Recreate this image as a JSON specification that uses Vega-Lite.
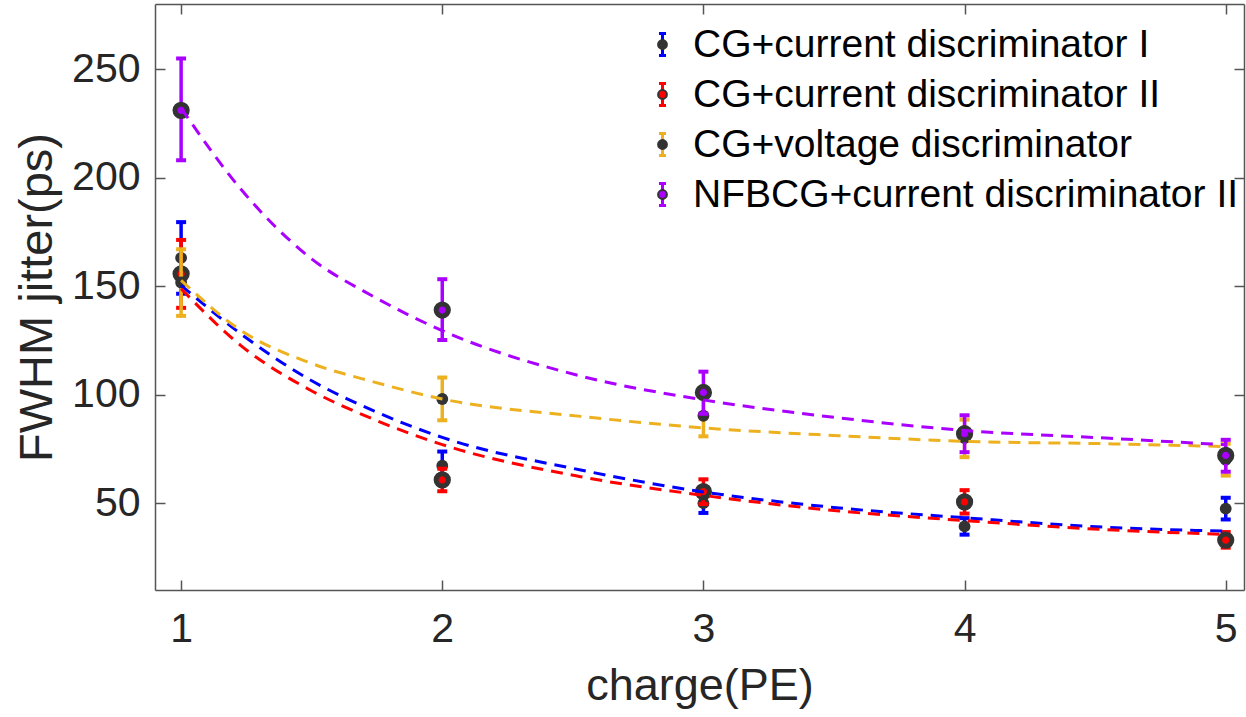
{
  "$schema": "https://vega.github.io/schema/vega-lite/v6.json",
  "width": 1089,
  "height": 586,
  "autosize": {"type": "none"},
  "padding": {"left": 155, "top": 4, "right": 2, "bottom": 127},
  "background": "white",
  "datasets": {
    "pts": [
      {"charge": 1, "series": "CG+current discriminator I", "val": 163, "lo": 146.5, "hi": 179.5},
      {"charge": 2, "series": "CG+current discriminator I", "val": 67.3, "lo": 60.8, "hi": 73.8},
      {"charge": 3, "series": "CG+current discriminator I", "val": 50, "lo": 45.5, "hi": 54.5},
      {"charge": 4, "series": "CG+current discriminator I", "val": 39.3, "lo": 35.5, "hi": 43.1},
      {"charge": 5, "series": "CG+current discriminator I", "val": 47.5, "lo": 42.5, "hi": 52.5},
      {"charge": 1, "series": "CG+current discriminator II", "val": 155.7, "lo": 140, "hi": 171.3},
      {"charge": 2, "series": "CG+current discriminator II", "val": 60.7, "lo": 55.5, "hi": 65.9},
      {"charge": 3, "series": "CG+current discriminator II", "val": 55.3, "lo": 49.6, "hi": 61},
      {"charge": 4, "series": "CG+current discriminator II", "val": 50.6, "lo": 45.2, "hi": 56},
      {"charge": 5, "series": "CG+current discriminator II", "val": 33, "lo": 29.5, "hi": 36.7},
      {"charge": 1, "series": "CG+voltage discriminator", "val": 151.7, "lo": 136.3, "hi": 167},
      {"charge": 2, "series": "CG+voltage discriminator", "val": 98, "lo": 88.2, "hi": 107.9},
      {"charge": 3, "series": "CG+voltage discriminator", "val": 90.3, "lo": 80.8, "hi": 99.8},
      {"charge": 4, "series": "CG+voltage discriminator", "val": 80, "lo": 71.2, "hi": 88.5},
      {"charge": 5, "series": "CG+voltage discriminator", "val": 70, "lo": 62.7, "hi": 77.4},
      {"charge": 1, "series": "NFBCG+current discriminator II", "val": 231, "lo": 208, "hi": 254.9},
      {"charge": 2, "series": "NFBCG+current discriminator II", "val": 139, "lo": 125.2, "hi": 153.2},
      {"charge": 3, "series": "NFBCG+current discriminator II", "val": 101, "lo": 91.2, "hi": 110.6},
      {"charge": 4, "series": "NFBCG+current discriminator II", "val": 82, "lo": 73.5, "hi": 90.5},
      {"charge": 5, "series": "NFBCG+current discriminator II", "val": 72, "lo": 64.5, "hi": 79.2}
    ],
    "fit": [
      {"charge": 1, "series": "CG+current discriminator I", "fit": 150.4},
      {"charge": 1.23, "series": "CG+current discriminator I", "fit": 127.9},
      {"charge": 1.49, "series": "CG+current discriminator I", "fit": 107.1},
      {"charge": 1.74, "series": "CG+current discriminator I", "fit": 92.4},
      {"charge": 2, "series": "CG+current discriminator I", "fit": 80.3},
      {"charge": 2.53, "series": "CG+current discriminator I", "fit": 65.3},
      {"charge": 3, "series": "CG+current discriminator I", "fit": 55.2},
      {"charge": 3.52, "series": "CG+current discriminator I", "fit": 47.8},
      {"charge": 4, "series": "CG+current discriminator I", "fit": 43.3},
      {"charge": 4.54, "series": "CG+current discriminator I", "fit": 38.9},
      {"charge": 5, "series": "CG+current discriminator I", "fit": 37.1},
      {"charge": 1, "series": "CG+current discriminator II", "fit": 148.8},
      {"charge": 1.23, "series": "CG+current discriminator II", "fit": 122.5},
      {"charge": 1.49, "series": "CG+current discriminator II", "fit": 102.4},
      {"charge": 1.74, "series": "CG+current discriminator II", "fit": 88.5},
      {"charge": 2, "series": "CG+current discriminator II", "fit": 77},
      {"charge": 2.53, "series": "CG+current discriminator II", "fit": 62.2},
      {"charge": 3, "series": "CG+current discriminator II", "fit": 53.6},
      {"charge": 3.52, "series": "CG+current discriminator II", "fit": 46.4},
      {"charge": 4, "series": "CG+current discriminator II", "fit": 42},
      {"charge": 4.54, "series": "CG+current discriminator II", "fit": 37.8},
      {"charge": 5, "series": "CG+current discriminator II", "fit": 35.6},
      {"charge": 1, "series": "CG+voltage discriminator", "fit": 152.7},
      {"charge": 1.23, "series": "CG+voltage discriminator", "fit": 129.5},
      {"charge": 1.49, "series": "CG+voltage discriminator", "fit": 114.8},
      {"charge": 1.74, "series": "CG+voltage discriminator", "fit": 105.8},
      {"charge": 2, "series": "CG+voltage discriminator", "fit": 98},
      {"charge": 2.53, "series": "CG+voltage discriminator", "fit": 90},
      {"charge": 3, "series": "CG+voltage discriminator", "fit": 84.7},
      {"charge": 3.52, "series": "CG+voltage discriminator", "fit": 81.1},
      {"charge": 4, "series": "CG+voltage discriminator", "fit": 78.5},
      {"charge": 4.54, "series": "CG+voltage discriminator", "fit": 77.4},
      {"charge": 5, "series": "CG+voltage discriminator", "fit": 76.1},
      {"charge": 1, "series": "NFBCG+current discriminator II", "fit": 232},
      {"charge": 1.23, "series": "NFBCG+current discriminator II", "fit": 194.5},
      {"charge": 1.49, "series": "NFBCG+current discriminator II", "fit": 163.5},
      {"charge": 1.74, "series": "NFBCG+current discriminator II", "fit": 145},
      {"charge": 2, "series": "NFBCG+current discriminator II", "fit": 129.5},
      {"charge": 2.53, "series": "NFBCG+current discriminator II", "fit": 108.6},
      {"charge": 3, "series": "NFBCG+current discriminator II", "fit": 97.6},
      {"charge": 3.52, "series": "NFBCG+current discriminator II", "fit": 89.3},
      {"charge": 4, "series": "NFBCG+current discriminator II", "fit": 83.5},
      {"charge": 4.54, "series": "NFBCG+current discriminator II", "fit": 80},
      {"charge": 5, "series": "NFBCG+current discriminator II", "fit": 76.9}
    ]
  },
  "layer": [
    {
      "encoding": {
        "x": {"field": "charge", "type": "quantitative", "title": "charge(PE)",
              "scale": {"domain": [0.9, 5.07], "nice": false, "zero": false},
              "axis": {"orient": "bottom", "values": [1, 2, 3, 4, 5], "format": "d", "title": "charge(PE)"}}
      },
      "layer": [
        {"data": {"name": "pts"}, "transform": [{"filter": {"field": "series", "equal": "CG+current discriminator I"}}],
         "mark": {"type": "rule", "strokeWidth": 3.5},
         "encoding": {
           "y": {"field": "lo", "type": "quantitative", "title": "FWHM jitter(ps)", "scale": {"domain": [10, 280], "nice": false, "zero": false}, "axis": {"orient": "left", "values": [50, 100, 150, 200, 250], "title": "FWHM jitter(ps)"}},
           "y2": {"field": "hi"},
           "stroke": {"field": "series", "type": "nominal",
             "scale": {"domain": ["CG+current discriminator I", "CG+current discriminator II", "CG+voltage discriminator", "NFBCG+current discriminator II"], "range": ["#0000FF", "#FF0000", "#EDB120", "#AA00FF"]},
             "legend": {"orient": "none", "legendX": 488, "legendY": 21, "title": null, "padding": 0,
               "symbolType": "M0,-1V1M-0.32,-1H0.32M-0.32,1H0.32", "symbolSize": 484, "symbolStrokeWidth": 3, "symbolFillColor": "transparent", "symbolOpacity": 1,
               "labelFont": "Liberation Sans", "labelFontSize": 39, "labelColor": "#000000", "labelOffset": 11, "rowPadding": 10, "labelLimit": 900}}
         }},
        {"data": {"name": "pts"}, "transform": [{"filter": {"field": "series", "equal": "CG+current discriminator I"}}],
         "mark": {"type": "point", "shape": "M-1,0H1", "filled": false, "size": 100, "strokeWidth": 4, "opacity": 1},
         "encoding": {"y": {"field": "lo", "type": "quantitative", "title": "FWHM jitter(ps)"}, "stroke": {"field": "series", "type": "nominal"}}},
        {"data": {"name": "pts"}, "transform": [{"filter": {"field": "series", "equal": "CG+current discriminator I"}}],
         "mark": {"type": "point", "shape": "M-1,0H1", "filled": false, "size": 100, "strokeWidth": 4, "opacity": 1},
         "encoding": {"y": {"field": "hi", "type": "quantitative", "title": "FWHM jitter(ps)"}, "stroke": {"field": "series", "type": "nominal"}}},
        {"data": {"name": "pts"}, "transform": [{"filter": {"field": "series", "equal": "CG+current discriminator I"}}],
         "mark": {"type": "point", "shape": "circle", "filled": true, "size": 140, "strokeWidth": 0, "opacity": 1},
         "encoding": {"y": {"field": "val", "type": "quantitative", "title": "FWHM jitter(ps)"},
           "fill": {"field": "series", "type": "nominal", "scale": {"range": ["#333333", "#FF0000", "#333333", "#AA00FF"]},
             "legend": {"orient": "none", "legendX": 488, "legendY": 21, "title": null, "padding": 0,
               "symbolType": "M-0.4,0A0.4,0.4 0 1,0 0.4,0A0.4,0.4 0 1,0 -0.4,0Z", "symbolSize": 484, "symbolStrokeColor": "#333333", "symbolStrokeWidth": 2, "symbolOpacity": 1,
               "labelFont": "Liberation Sans", "labelFontSize": 39, "labelOpacity": 0, "labelOffset": 11, "rowPadding": 10, "labelLimit": 900}}}},

        {"data": {"name": "pts"}, "transform": [{"filter": {"field": "series", "equal": "CG+current discriminator II"}}],
         "mark": {"type": "rule", "strokeWidth": 3.5},
         "encoding": {"y": {"field": "lo", "type": "quantitative", "title": "FWHM jitter(ps)"}, "y2": {"field": "hi"}, "stroke": {"field": "series", "type": "nominal"}}},
        {"data": {"name": "pts"}, "transform": [{"filter": {"field": "series", "equal": "CG+current discriminator II"}}],
         "mark": {"type": "point", "shape": "M-1,0H1", "filled": false, "size": 100, "strokeWidth": 4, "opacity": 1},
         "encoding": {"y": {"field": "lo", "type": "quantitative", "title": "FWHM jitter(ps)"}, "stroke": {"field": "series", "type": "nominal"}}},
        {"data": {"name": "pts"}, "transform": [{"filter": {"field": "series", "equal": "CG+current discriminator II"}}],
         "mark": {"type": "point", "shape": "M-1,0H1", "filled": false, "size": 100, "strokeWidth": 4, "opacity": 1},
         "encoding": {"y": {"field": "hi", "type": "quantitative", "title": "FWHM jitter(ps)"}, "stroke": {"field": "series", "type": "nominal"}}},
        {"data": {"name": "pts"}, "transform": [{"filter": {"field": "series", "equal": "CG+current discriminator II"}}],
         "mark": {"type": "point", "shape": "circle", "filled": true, "size": 150, "stroke": "#333333", "strokeWidth": 5, "opacity": 1},
         "encoding": {"y": {"field": "val", "type": "quantitative", "title": "FWHM jitter(ps)"}, "fill": {"field": "series", "type": "nominal"}}},

        {"data": {"name": "pts"}, "transform": [{"filter": {"field": "series", "equal": "CG+voltage discriminator"}}],
         "mark": {"type": "rule", "strokeWidth": 3.5},
         "encoding": {"y": {"field": "lo", "type": "quantitative", "title": "FWHM jitter(ps)"}, "y2": {"field": "hi"}, "stroke": {"field": "series", "type": "nominal"}}},
        {"data": {"name": "pts"}, "transform": [{"filter": {"field": "series", "equal": "CG+voltage discriminator"}}],
         "mark": {"type": "point", "shape": "M-1,0H1", "filled": false, "size": 100, "strokeWidth": 4, "opacity": 1},
         "encoding": {"y": {"field": "lo", "type": "quantitative", "title": "FWHM jitter(ps)"}, "stroke": {"field": "series", "type": "nominal"}}},
        {"data": {"name": "pts"}, "transform": [{"filter": {"field": "series", "equal": "CG+voltage discriminator"}}],
         "mark": {"type": "point", "shape": "M-1,0H1", "filled": false, "size": 100, "strokeWidth": 4, "opacity": 1},
         "encoding": {"y": {"field": "hi", "type": "quantitative", "title": "FWHM jitter(ps)"}, "stroke": {"field": "series", "type": "nominal"}}},
        {"data": {"name": "pts"}, "transform": [{"filter": {"field": "series", "equal": "CG+voltage discriminator"}}],
         "mark": {"type": "point", "shape": "circle", "filled": true, "size": 140, "strokeWidth": 0, "opacity": 1},
         "encoding": {"y": {"field": "val", "type": "quantitative", "title": "FWHM jitter(ps)"}, "fill": {"field": "series", "type": "nominal"}}},

        {"data": {"name": "pts"}, "transform": [{"filter": {"field": "series", "equal": "NFBCG+current discriminator II"}}],
         "mark": {"type": "rule", "strokeWidth": 3.5},
         "encoding": {"y": {"field": "lo", "type": "quantitative", "title": "FWHM jitter(ps)"}, "y2": {"field": "hi"}, "stroke": {"field": "series", "type": "nominal"}}},
        {"data": {"name": "pts"}, "transform": [{"filter": {"field": "series", "equal": "NFBCG+current discriminator II"}}],
         "mark": {"type": "point", "shape": "M-1,0H1", "filled": false, "size": 100, "strokeWidth": 4, "opacity": 1},
         "encoding": {"y": {"field": "lo", "type": "quantitative", "title": "FWHM jitter(ps)"}, "stroke": {"field": "series", "type": "nominal"}}},
        {"data": {"name": "pts"}, "transform": [{"filter": {"field": "series", "equal": "NFBCG+current discriminator II"}}],
         "mark": {"type": "point", "shape": "M-1,0H1", "filled": false, "size": 100, "strokeWidth": 4, "opacity": 1},
         "encoding": {"y": {"field": "hi", "type": "quantitative", "title": "FWHM jitter(ps)"}, "stroke": {"field": "series", "type": "nominal"}}},
        {"data": {"name": "pts"}, "transform": [{"filter": {"field": "series", "equal": "NFBCG+current discriminator II"}}],
         "mark": {"type": "point", "shape": "circle", "filled": true, "size": 150, "stroke": "#333333", "strokeWidth": 5, "opacity": 1},
         "encoding": {"y": {"field": "val", "type": "quantitative", "title": "FWHM jitter(ps)"}, "fill": {"field": "series", "type": "nominal"}}},

        {"data": {"name": "fit"},
         "mark": {"type": "line", "strokeWidth": 3, "strokeDash": [12, 8], "interpolate": "monotone"},
         "encoding": {"y": {"field": "fit", "type": "quantitative", "title": "FWHM jitter(ps)"},
           "color": {"field": "series", "type": "nominal", "legend": null,
             "scale": {"domain": ["CG+current discriminator I", "CG+current discriminator II", "CG+voltage discriminator", "NFBCG+current discriminator II"], "range": ["#0000FF", "#FF0000", "#EDB120", "#AA00FF"]}}}}
      ]
    },
    {
      "data": {"name": "fit"},
      "mark": {"type": "point", "opacity": 0},
      "encoding": {
        "x": {"field": "charge", "type": "quantitative", "scale": {"domain": [0.9, 5.07], "nice": false, "zero": false}, "axis": {"orient": "top", "values": [1, 2, 3, 4, 5], "title": null, "labels": false}},
        "y": {"field": "fit", "type": "quantitative", "scale": {"domain": [10, 280], "nice": false, "zero": false}, "axis": {"orient": "right", "values": [50, 100, 150, 200, 250], "title": null, "labels": false}}
      }
    }
  ],
  "resolve": {"axis": {"x": "independent", "y": "independent"}},
  "config": {
    "view": {"stroke": null},
    "axis": {"grid": false, "domainColor": "#555555", "domainWidth": 1.5, "tickColor": "#555555", "tickWidth": 1.5, "tickSize": -10,
             "labelFont": "Liberation Sans", "labelFontSize": 41, "labelColor": "#262626",
             "titleFont": "Liberation Sans", "titleFontSize": 45, "titleFontWeight": "normal", "titleColor": "#262626"},
    "axisBottom": {"labelPadding": 29, "titlePadding": 14},
    "axisLeft": {"labelPadding": 25, "titlePadding": 10, "titleFontSize": 47}
  }
}
